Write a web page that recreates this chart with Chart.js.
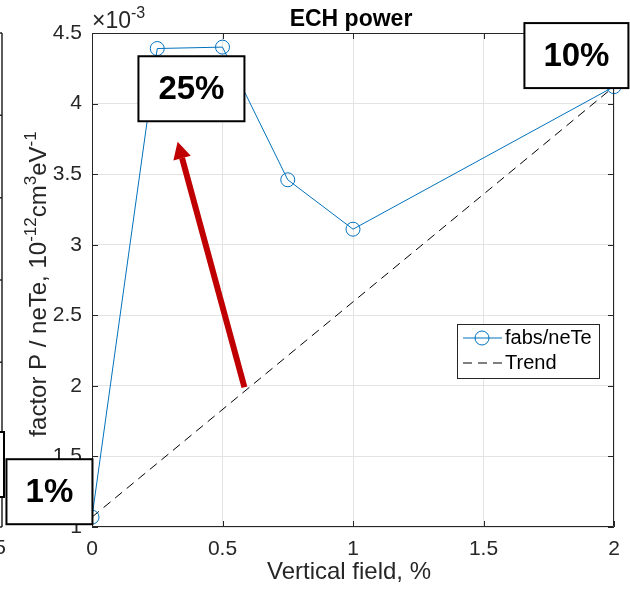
<!DOCTYPE html>
<html>
<head>
<meta charset="utf-8">
<script src="https://cdn.jsdelivr.net/npm/chart.js@4.4.0/dist/chart.umd.min.js"></script>
<style>
  html, body { margin: 0; padding: 0; background: #fff; }
  #wrap { width: 630px; height: 589px; }
</style>
</head>
<body>
<div id="wrap"><canvas id="chart" width="630" height="589"></canvas></div>
<script>
// vertical field, %
const fieldPct = [0, 0.25, 0.5, 0.75, 1, 2];
// fabs/neTe in units of 1e-3
const fabsNeTe = [1.07, 4.39, 4.40, 3.46, 3.11, 4.12];
// straight trend between the end points
const trendX = [0, 2];
const trendY = [1.07, 4.12];
const xTicks = [0, 0.5, 1, 1.5, 2];
const yTicks = [1, 1.5, 2, 2.5, 3, 3.5, 4, 4.5];
const seriesNames = ['fabs/neTe', 'Trend'];
const boxLabels = ['25%', '10%', '1%'];

const FONT = '"Liberation Sans", Arial, Helvetica, sans-serif';
const AXIS = '#262626';
const BLUE = '#0072BD';

// callout boxes, centred at data coordinates (w/h in px)
const callouts = [
  { text: boxLabels[0], x: 0.381, y: 4.105, w: 106, h: 65 },
  { text: boxLabels[1], x: 1.856, y: 4.34, w: 104, h: 65 },
  { text: boxLabels[2], x: -0.163, y: 1.25, w: 86, h: 65 }
];
// red arrow, tail -> tip in data coordinates
const arrow = { x0: 0.584, y0: 1.99, x1: 0.328, y1: 3.73 };

const pts = fieldPct.map((x, i) => ({ x: x, y: fabsNeTe[i] }));
const trendPts = trendX.map((x, i) => ({ x: x, y: trendY[i] }));

// axis box with inward ticks on all four sides
const boxPlugin = {
  id: 'boxPlugin',
  afterDatasetsDraw(chart) {
    const { ctx, chartArea: a, scales } = chart;
    ctx.save();
    ctx.strokeStyle = AXIS;
    ctx.lineWidth = 1;
    ctx.beginPath();
    ctx.rect(a.left + 0.5, a.top + 0.5, a.right - a.left - 1, a.bottom - a.top - 1);
    const t = 6;
    xTicks.forEach(v => {
      const px = Math.round(scales.x.getPixelForValue(v)) + 0.5;
      ctx.moveTo(px, a.bottom); ctx.lineTo(px, a.bottom - t);
      ctx.moveTo(px, a.top); ctx.lineTo(px, a.top + t);
    });
    yTicks.forEach(v => {
      const py = Math.round(scales.y.getPixelForValue(v)) + 0.5;
      ctx.moveTo(a.left, py); ctx.lineTo(a.left + t, py);
      ctx.moveTo(a.right, py); ctx.lineTo(a.right - t, py);
    });
    ctx.stroke();
    ctx.restore();
  }
};

// text, legend, callouts and arrow on top
const overlayPlugin = {
  id: 'overlayPlugin',
  afterDraw(chart) {
    const { ctx, chartArea: a, scales } = chart;
    const xs = scales.x, ys = scales.y;
    const cx = (a.left + a.right) / 2;
    ctx.save();

    // neighbouring panel edge at the far left
    ctx.strokeStyle = AXIS;
    ctx.lineWidth = 1.5;
    ctx.beginPath();
    ctx.moveTo(2, a.top); ctx.lineTo(2, a.bottom);
    for (let i = 0; i <= 6; i++) {
      const y = a.top + (a.bottom - a.top) * i / 6;
      ctx.moveTo(-4, y); ctx.lineTo(2, y);
    }
    ctx.stroke();
    ctx.fillStyle = AXIS;
    ctx.font = '21px ' + FONT;
    ctx.textAlign = 'right';
    ctx.textBaseline = 'top';
    ctx.fillText('5', 6, a.bottom + 11);
    ctx.fillStyle = '#fff';
    ctx.fillRect(-20, 432, 24, 65);
    ctx.strokeStyle = '#000';
    ctx.lineWidth = 2;
    ctx.strokeRect(-20, 432, 24, 65);

    // title
    ctx.fillStyle = '#000';
    ctx.font = 'bold 23px ' + FONT;
    ctx.textAlign = 'center';
    ctx.textBaseline = 'alphabetic';
    ctx.fillText('ECH power', cx - 2, 26);

    // exponent marker
    ctx.fillStyle = AXIS;
    ctx.textAlign = 'left';
    ctx.font = '23px ' + FONT;
    ctx.fillText('\u00d710', a.left, 28);
    const w10 = ctx.measureText('\u00d710').width;
    ctx.font = '16px ' + FONT;
    ctx.fillText('-3', a.left + w10, 18);

    // x axis title
    ctx.font = '24px ' + FONT;
    ctx.textAlign = 'center';
    ctx.fillText('Vertical field, %', cx - 4, 579);

    // y axis title with superscripts
    const parts = [
      { t: 'factor P / neTe, 10' }, { t: '-12', sup: true },
      { t: 'cm' }, { t: '3', sup: true },
      { t: 'eV' }, { t: '-1', sup: true }
    ];
    const big = '24px ' + FONT, small = '17px ' + FONT;
    let total = 0;
    parts.forEach(p => { ctx.font = p.sup ? small : big; p.w = ctx.measureText(p.t).width; total += p.w; });
    ctx.save();
    ctx.translate(46, (a.top + a.bottom) / 2 + 4);
    ctx.rotate(-Math.PI / 2);
    ctx.textAlign = 'left';
    let px = -total / 2;
    parts.forEach(p => {
      ctx.font = p.sup ? small : big;
      ctx.fillText(p.t, px, p.sup ? -10 : 0);
      px += p.w;
    });
    ctx.restore();

    // legend
    const lx = a.right - 157, ly = 324, lw = 142, lh = 54;
    ctx.fillStyle = '#fff';
    ctx.fillRect(lx, ly, lw, lh);
    ctx.strokeStyle = AXIS;
    ctx.lineWidth = 1;
    ctx.strokeRect(lx + 0.5, ly + 0.5, lw, lh);
    const r1 = ly + 14, r2 = ly + 39;
    ctx.strokeStyle = BLUE;
    ctx.beginPath();
    ctx.moveTo(lx + 6, r1); ctx.lineTo(lx + 45, r1);
    ctx.stroke();
    ctx.beginPath();
    ctx.arc(lx + 25, r1, 7, 0, Math.PI * 2);
    ctx.stroke();
    ctx.strokeStyle = '#000';
    ctx.setLineDash([9, 6]);
    ctx.beginPath();
    ctx.moveTo(lx + 6, r2); ctx.lineTo(lx + 45, r2);
    ctx.stroke();
    ctx.setLineDash([]);
    ctx.fillStyle = '#000';
    ctx.font = '20px ' + FONT;
    ctx.textAlign = 'left';
    ctx.textBaseline = 'middle';
    ctx.fillText(seriesNames[0], lx + 48, r1);
    ctx.fillText(seriesNames[1], lx + 48, r2);

    // arrow
    const x0 = xs.getPixelForValue(arrow.x0), y0 = ys.getPixelForValue(arrow.y0);
    const x1 = xs.getPixelForValue(arrow.x1), y1 = ys.getPixelForValue(arrow.y1);
    const ang = Math.atan2(y1 - y0, x1 - x0);
    const hl = 17, hw = 9;
    const bx = x1 - hl * Math.cos(ang), by = y1 - hl * Math.sin(ang);
    ctx.strokeStyle = '#C00000';
    ctx.fillStyle = '#C00000';
    ctx.lineWidth = 6;
    ctx.beginPath();
    ctx.moveTo(x0, y0); ctx.lineTo(bx, by);
    ctx.stroke();
    ctx.beginPath();
    ctx.moveTo(x1, y1);
    ctx.lineTo(bx + hw * Math.sin(ang), by - hw * Math.cos(ang));
    ctx.lineTo(bx - hw * Math.sin(ang), by + hw * Math.cos(ang));
    ctx.closePath();
    ctx.fill();

    // callout boxes
    callouts.forEach(c => {
      const px = xs.getPixelForValue(c.x), py = ys.getPixelForValue(c.y);
      ctx.fillStyle = '#fff';
      ctx.fillRect(px - c.w / 2, py - c.h / 2, c.w, c.h);
      ctx.strokeStyle = '#000';
      ctx.lineWidth = 2;
      ctx.strokeRect(px - c.w / 2, py - c.h / 2, c.w, c.h);
      ctx.fillStyle = '#000';
      ctx.font = 'bold 33px ' + FONT;
      ctx.textAlign = 'center';
      ctx.textBaseline = 'middle';
      ctx.fillText(c.text, px, py + 1);
    });
    ctx.restore();
  }
};

new Chart(document.getElementById('chart'), {
  type: 'scatter',
  data: {
    datasets: [
      {
        label: seriesNames[0],
        data: pts,
        showLine: true,
        borderColor: BLUE,
        borderWidth: 1,
        pointRadius: 7,
        pointBorderWidth: 1,
        pointBorderColor: BLUE,
        pointBackgroundColor: 'rgba(0,0,0,0)',
        clip: false
      },
      {
        label: seriesNames[1],
        data: trendPts,
        showLine: true,
        borderColor: '#000',
        borderWidth: 1,
        borderDash: [9, 6],
        pointRadius: 0,
        clip: false
      }
    ]
  },
  options: {
    responsive: false,
    animation: false,
    layout: { padding: { top: 33, right: 16, left: 0, bottom: 0 } },
    plugins: { legend: { display: false }, tooltip: { enabled: false } },
    scales: {
      x: {
        type: 'linear',
        min: 0, max: 2,
        afterBuildTicks: s => { s.ticks = xTicks.map(v => ({ value: v })); },
        afterFit: s => { s.height = 62; },
        grid: { color: '#e3e3e3', drawTicks: false },
        border: { display: false },
        ticks: { color: AXIS, font: { family: FONT, size: 21 }, padding: 10, maxRotation: 0, callback: v => String(v) }
      },
      y: {
        type: 'linear',
        min: 1, max: 4.5,
        afterBuildTicks: s => { s.ticks = yTicks.map(v => ({ value: v })); },
        afterFit: s => { s.width = 92; },
        grid: { color: '#e3e3e3', drawTicks: false },
        border: { display: false },
        ticks: { color: AXIS, font: { family: FONT, size: 21 }, padding: 10, callback: v => String(v) }
      }
    }
  },
  plugins: [boxPlugin, overlayPlugin]
});
</script>
</body>
</html>
